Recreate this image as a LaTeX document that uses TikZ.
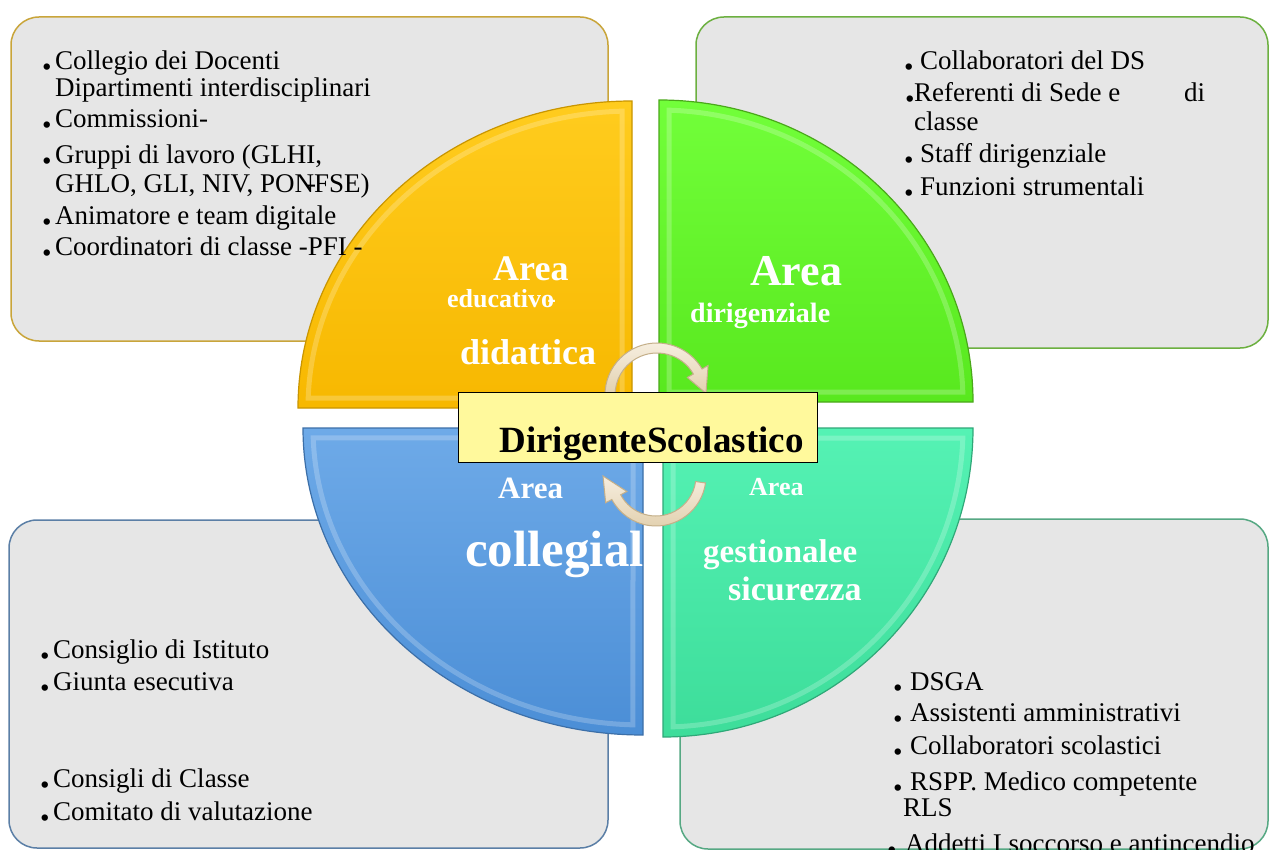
\documentclass[tikz,border=0pt]{standalone}
\usepackage{fontspec}
\setmainfont{Liberation Serif}
\usepackage{graphicx}
\usetikzlibrary{calc}
\definecolor{boxgray}{HTML}{E6E6E6}
\definecolor{tlborder}{HTML}{C9A53A}
\definecolor{trborder}{HTML}{6CB040}
\definecolor{blborder}{HTML}{5B7FA6}
\definecolor{brborder}{HTML}{56A883}
\definecolor{yelT}{HTML}{FFCC1E}
\definecolor{yelB}{HTML}{F7B800}
\definecolor{yelE}{HTML}{C99500}
\definecolor{greT}{HTML}{72FF3A}
\definecolor{greB}{HTML}{58E81E}
\definecolor{greE}{HTML}{4AA81A}
\definecolor{bluT}{HTML}{6EAAE8}
\definecolor{bluB}{HTML}{4B8ED6}
\definecolor{bluE}{HTML}{3C6FA8}
\definecolor{teaT}{HTML}{55F2B4}
\definecolor{teaB}{HTML}{3DDD9A}
\definecolor{teaE}{HTML}{2FA878}
\definecolor{dsfill}{HTML}{FFF99C}
\definecolor{arrT}{HTML}{F6EEDF}
\definecolor{arrB}{HTML}{E2D0AE}
\definecolor{arrE}{HTML}{C4AF89}
\newcommand\bul[1]{\llap{\scalebox{2}{.}\kern#1}}
\tikzset{
  graybox/.style={rectangle, rounded corners=28pt, fill=boxgray, line width=1.5pt, inner sep=0pt},
  boxtxt/.style={anchor=base west, inner sep=0pt, font=\fontsize{27}{30}\selectfont},
  qlab/.style={anchor=base west, inner sep=0pt, text=white},
  bevel/.style={draw=white, draw opacity=0.22, line width=5pt},
  arrowshape/.style={top color=arrT, bottom color=arrB, draw=arrE, line width=1pt}
}
\begin{document}
\begin{tikzpicture}[x=1pt,y=-1pt]
\clip (0,0) rectangle (1269,850);
\fill[white] (0,0) rectangle (1269,850);

% grey boxes
\node[graybox, draw=tlborder, minimum width=597pt, minimum height=324pt] (tlbox) at (309.5,179) {};
\node[graybox, draw=trborder, minimum width=572pt, minimum height=331pt] (trbox) at (982,182.5) {};
\node[graybox, draw=blborder, minimum width=599pt, minimum height=328pt] (blbox) at (308.5,684) {};
\node[graybox, draw=brborder, minimum width=588pt, minimum height=330pt] (brbox) at (974,684) {};

% quadrants
\path[shade, top color=yelT, bottom color=yelB, draw=yelE, line width=1.2pt]
  (632,408) -- (298,408) arc[start angle=180,end angle=270,x radius=334,y radius=307] -- cycle;
\path[bevel] (622,398) -- ($(632,408)+(181.93:324 and 297)$)
  arc[start angle=181.93,end angle=268.23,x radius=324,y radius=297] -- cycle;

\path[shade, top color=greT, bottom color=greB, draw=greE, line width=1.2pt]
  (659,402) -- (659,100) arc[start angle=270,end angle=360,x radius=314,y radius=302] -- cycle;
\path[bevel] (669,392) -- ($(659,402)+(271.89:304 and 292)$)
  arc[start angle=271.89,end angle=358.04,x radius=304,y radius=292] -- cycle;

\path[shade, top color=bluT, bottom color=bluB, draw=bluE, line width=1.2pt]
  (643,428) -- (303,428) arc[start angle=180,end angle=90,x radius=340,y radius=307] -- cycle;
\path[bevel] (633,438) -- ($(643,428)+(178.07:330 and 297)$)
  arc[start angle=178.07,end angle=91.74,x radius=330,y radius=297] -- cycle;

\path[shade, top color=teaT, bottom color=teaB, draw=teaE, line width=1.2pt]
  (663,428) -- (973,428) arc[start angle=0,end angle=90,x radius=310,y radius=309] -- cycle;
\path[bevel] (673,438) -- ($(663,428)+(1.92:300 and 299)$)
  arc[start angle=1.92,end angle=88.09,x radius=300,y radius=299] -- cycle;

% circular arrows
\coordinate (ca) at (657,395);
\path[arrowshape] ($(ca)+(180:52)$) arc[start angle=180,end angle=330,radius=52]
  -- ($(ca)+(330:59)$) -- ($(ca)+(358:49)$) -- ($(ca)+(330:35)$) -- ($(ca)+(330:42)$)
  arc[start angle=330,end angle=180,radius=42] -- cycle;
\coordinate (cb) at (656,476);
\path[arrowshape] ($(cb)+(8:50)$) arc[start angle=8,end angle=152,radius=50]
  -- ($(cb)+(152:57)$) -- ($(cb)+(180:53)$) -- ($(cb)+(152:33)$) -- ($(cb)+(152:40)$)
  arc[start angle=152,end angle=8,radius=40] -- cycle;

% centre box
\node[draw=black, fill=dsfill, line width=1pt, minimum width=359pt, minimum height=70pt,
  inner sep=0pt, text height=60pt, text depth=10pt,
  font=\fontsize{37}{40}\selectfont\bfseries] (ds) at (637.5,427)
  {\hspace*{28pt}DirigenteScolastico};

% quadrant labels
\node[qlab, font=\fontsize{36}{38}\selectfont\bfseries] (y1) at (493,281) {Area};
\node[qlab, font=\fontsize{26}{28}\selectfont\bfseries] (y2) at (447,308) {educativo\llap{-\kern-2pt}};
\node[qlab, font=\fontsize{36}{38}\selectfont\bfseries] (y3) at (460,364) {didattica};
\node[qlab, font=\fontsize{44}{46}\selectfont\bfseries] (g1) at (750,286) {Area};
\node[qlab, font=\fontsize{28}{30}\selectfont\bfseries] (g2) at (690,323) {dirigenziale};
\node[qlab, font=\fontsize{31}{33}\selectfont\bfseries] (b1) at (498,498) {Area};
\begin{scope}
\clip (643,428) -- (303,428) arc[start angle=180,end angle=90,x radius=340,y radius=307] -- cycle;
\node[qlab, font=\fontsize{51}{53}\selectfont\bfseries] (b2) at (465,566) {collegiale};
\end{scope}
\node[qlab, font=\fontsize{26}{28}\selectfont\bfseries] (t1) at (749,495) {Area};
\node[qlab, font=\fontsize{33}{35}\selectfont\bfseries] (t2) at (703,562) {gestionalee};
\node[qlab, font=\fontsize{34}{36}\selectfont\bfseries] (t3) at (728,600) {sicurezza};

% top-left texts
\node[boxtxt] (tl1) at (55,70) {\bul{1.3pt}Collegio dei Docenti};
\node[boxtxt] (tl2) at (55,97) {Dipartimenti interdisciplinari};
\node[boxtxt] (tl3) at (55,128) {\bul{1.3pt}Commissioni-};
\node[boxtxt] (tl4) at (55,164) {\bul{1.3pt}Gruppi di lavoro (GLHI,};
\node[boxtxt] (tl5) at (55,193) {GHLO, GLI, NIV, PON\llap{-\kern-2pt}FSE)};
\node[boxtxt] (tl6) at (55,225) {\bul{1.3pt}Animatore e team digitale};
\node[boxtxt] (tl7) at (55,256) {\bul{1.3pt}Coordinatori di classe -PFI -};

% top-right texts
\node[boxtxt] (tr1) at (920,70) {\bul{4.3pt}Collaboratori del DS};
\node[boxtxt] (tr2) at (914,102) {\bul{-2.7pt}\makebox[270pt][l]{Referenti di Sede e}di};
\node[boxtxt] (tr3) at (914,131) {classe};
\node[boxtxt] (tr4) at (920,163) {\bul{4.3pt}Staff dirigenziale};
\node[boxtxt] (tr5) at (920,196) {\bul{4.3pt}Funzioni strumentali};

% bottom-left texts
\node[boxtxt] (bl1) at (53,658) {\bul{1.3pt}Consiglio di Istituto};
\node[boxtxt] (bl2) at (53,690) {\bul{1.3pt}Giunta esecutiva};
\node[boxtxt] (bl3) at (53,787) {\bul{1.3pt}Consigli di Classe};
\node[boxtxt] (bl4) at (53,820) {\bul{1.3pt}Comitato di valutazione};

% bottom-right texts
\node[boxtxt] (br1) at (910,690) {\bul{5.3pt}DSGA};
\node[boxtxt] (br2) at (910,721) {\bul{5.3pt}Assistenti amministrativi};
\node[boxtxt] (br3) at (910,754) {\bul{5.3pt}Collaboratori scolastici};
\node[boxtxt] (br4) at (910,790) {\bul{5.3pt}RSPP. Medico competente};
\node[boxtxt] (br5) at (903,816) {RLS};
\node[boxtxt] (br6) at (905,852) {\bul{6.3pt}Addetti I soccorso e antincendio};
\end{tikzpicture}
\end{document}
